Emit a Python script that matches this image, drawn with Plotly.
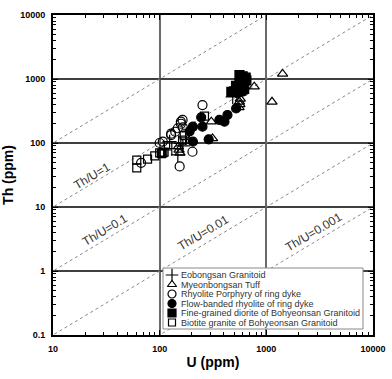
import math
import plotly.graph_objects as go

# ---- data ----
eob_U = [484, 124, 148, 111, 158, 130, 190, 175, 165]
eob_Th = [525, 105, 65, 78, 99, 82, 160, 120, 90]

tuff_U = [1420, 1130, 770, 560, 565, 555, 570, 305, 313, 152, 150, 155]
tuff_Th = [1200, 440, 760, 440, 400, 360, 490, 215, 118, 78, 88, 70]

rp_U = [100, 107, 128, 158, 203, 154, 252, 164, 158, 148, 140, 128, 67, 165]
rp_Th = [100, 105, 133, 215, 73, 43, 392, 229, 200, 170, 150, 140, 49, 175]

fb_U = [205, 252, 205, 288, 245, 363, 405, 432, 521, 575, 610, 191, 540]
fb_Th = [180, 180, 105, 114, 252, 229, 215, 274, 347, 631, 640, 152, 600]

fd_U = [470, 500, 560, 600, 640, 580, 520, 560, 610, 650, 620]
fd_Th = [630, 640, 1150, 1100, 1050, 900, 780, 820, 1000, 950, 700]

bg_U = [61, 61, 77, 90, 100, 107, 164, 263, 170, 104, 110]
bg_Th = [54, 41, 56, 63, 70, 70, 111, 263, 130, 68, 72]

ratios = [10, 1, 0.1, 0.01, 0.001]
ratio_labels = ["Th/U=1", "Th/U=0.1", "Th/U=0.01", "Th/U=0.001"]
label_U = [23.2, 30.7, 255, 2790]
label_Th = [30.5, 4.37, 3.93, 4.06]

x_ticks = [10, 100, 1000, 10000]
y_ticks = [0.1, 1, 10, 100, 1000, 10000]

series = [
    ("Eobongsan Granitoid", eob_U, eob_Th, "cross-thin-open", 10),
    ("Myeonbongsan Tuff", tuff_U, tuff_Th, "triangle-up-open", 9),
    ("Rhyolite Porphyry of ring dyke", rp_U, rp_Th, "circle-open", 9),
    ("Flow-banded rhyolite of ring dyke", fb_U, fb_Th, "circle", 9),
    ("Fine-grained diorite of Bohyeonsan Granitoid", fd_U, fd_Th, "square", 9),
    ("Biotite granite of Bohyeonsan Granitoid", bg_U, bg_Th, "square-open", 8),
]

FONT = "Arial, Liberation Sans, sans-serif"
fig = go.Figure()

# ratio lines
for r in ratios:
    xs = [1, 100000]
    fig.add_trace(go.Scatter(x=xs, y=[r * v for v in xs], mode="lines",
                             line=dict(color="#888", width=1, dash="dot"),
                             showlegend=False, hoverinfo="skip"))

for name, xu, yth, sym, sz in series:
    fig.add_trace(go.Scatter(x=xu, y=yth, mode="markers", name=name,
                             marker=dict(symbol=sym, size=sz, color="black",
                                         line=dict(color="black", width=1.2)),
                             showlegend=False))

for t, ux, ty in zip(ratio_labels, label_U, label_Th):
    fig.add_annotation(x=math.log10(ux), y=math.log10(ty), xref="x", yref="y", text=t,
                       showarrow=False, textangle=-31,
                       font=dict(family=FONT, size=12, color="#333"),
                       xanchor="center", yanchor="middle")

# minor ticks
minor_vals = []
for d in [0.1, 1, 10, 100, 1000]:
    for m in range(2, 10):
        minor_vals.append(d * m)

# manual legend drawn on an overlay axis (0..1 = plot area)
PX0, PW, PY1, PH = 53, 320, 335, 320
def px(x):
    return (x - PX0) / PW
def py(y):
    return (PY1 - y) / PH

bx0, bx1, by0, by1 = px(163), px(363), py(329), py(268)
fig.add_trace(go.Scatter(x=[bx0, bx1, bx1, bx0, bx0], y=[by0, by0, by1, by1, by0],
                         xaxis="x2", yaxis="y2", mode="lines", fill="toself",
                         fillcolor="white", line=dict(color="#888", width=1),
                         showlegend=False, hoverinfo="skip"))
row_px = [275, 284.5, 294, 303.5, 313, 322.5]
for (name, xu, yth, sym, sz), ry in zip(series, row_px):
    yy = py(ry)
    fig.add_trace(go.Scatter(x=[px(172)], y=[yy], xaxis="x2", yaxis="y2", mode="markers",
                             marker=dict(symbol=sym, size=sz - 1, color="black",
                                         line=dict(color="black", width=1.2)),
                             showlegend=False, hoverinfo="skip"))
    fig.add_annotation(x=px(179), y=yy, xref="paper", yref="paper", text=name,
                       showarrow=False, xanchor="left", yanchor="middle",
                       font=dict(family=FONT, size=9, color="#333"))

axis_common = dict(type="log", showline=True, linecolor="black", linewidth=2,
                   mirror="allticks", ticks="inside", ticklen=5, tickwidth=1,
                   tickcolor="black", zeroline=False, showgrid=True, automargin=False,
                   ticklabelstandoff=4,
                   tickfont=dict(family=FONT, size=9, color="black", weight="bold"),
                   minor=dict(tickvals=minor_vals, ticks="inside", ticklen=3,
                              tickcolor="black", showgrid=False))

fig.update_layout(
    width=392, height=379,
    margin=dict(l=53, r=19, t=15, b=44),
    paper_bgcolor="white", plot_bgcolor="white",
    showlegend=False,
    xaxis=dict(axis_common, range=[1, 4], tickvals=x_ticks,
               ticktext=[str(v) for v in x_ticks], gridcolor="#6a6a6a", gridwidth=1.5,
               title=dict(text="U (ppm)", standoff=4,
                          font=dict(family=FONT, size=14, color="black", weight="bold"))),
    yaxis=dict(axis_common, range=[-1, 4], tickvals=y_ticks,
               ticktext=[str(v) for v in y_ticks], gridcolor="#404040", gridwidth=1.5,
               title=dict(text="Th (ppm)", standoff=6,
                          font=dict(family=FONT, size=14, color="black", weight="bold"))),
    xaxis2=dict(overlaying="x", range=[0, 1], visible=False, fixedrange=True),
    yaxis2=dict(overlaying="y", range=[0, 1], visible=False, fixedrange=True),
)

fig.write_html("out.html", config={"displayModeBar": False},
               post_script="document.body.style.margin='0px';document.body.style.overflow='hidden';")
